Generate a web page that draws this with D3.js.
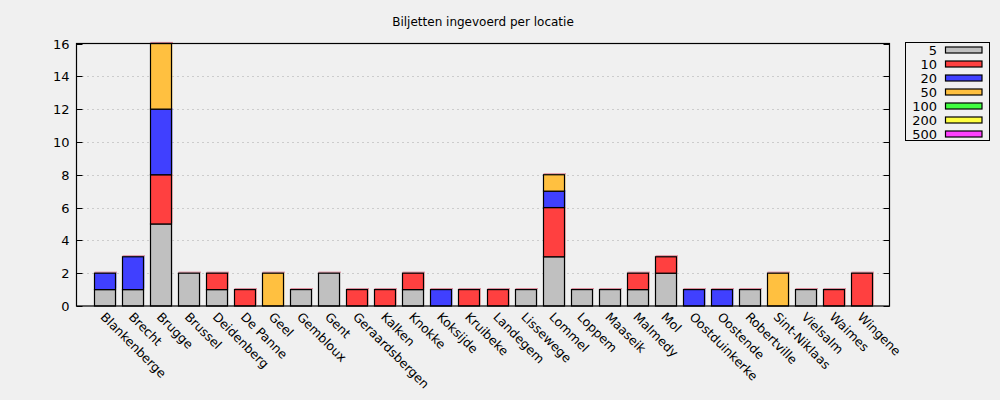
<!DOCTYPE html>
<html><head><meta charset="utf-8">
<script src="https://cdn.jsdelivr.net/npm/d3@7"></script>
<style>
body{margin:0;background:#f0f0f0;}
svg{display:block;font-family:"DejaVu Sans",sans-serif;}
</style></head>
<body><svg id="c" width="1000" height="400"></svg>
<script>
const title = "Biljetten ingevoerd per locatie";
const locations = ["Blankenberge","Brecht","Brugge","Brussel","Deidenberg","De Panne","Geel","Gembloux","Gent","Geraardsbergen","Kalken","Knokke","Koksijde","Kruibeke","Landegem","Lissewege","Lommel","Loppem","Maaseik","Malmedy","Mol","Oostduinkerke","Oostende","Robertville","Sint-Niklaas","Vielsalm","Waimes","Wingene"];
const seriesNames = ["5","10","20","50","100","200","500"];
const seriesColors = ["#c0c0c0","#ff4040","#4040ff","#ffc040","#40ff40","#ffff40","#ff40ff"];
const v5   = [1,1,5,2,1,0,0,1,2,0,0,1,0,0,0,1,3,1,1,1,2,0,0,1,0,1,0,0];
const v10  = [0,0,3,0,1,1,0,0,0,1,1,1,0,1,1,0,3,0,0,1,1,0,0,0,0,0,1,2];
const v20  = [1,2,4,0,0,0,0,0,0,0,0,0,1,0,0,0,1,0,0,0,0,1,1,0,0,0,0,0];
const v50  = [0,0,4,0,0,0,2,0,0,0,0,0,0,0,0,0,1,0,0,0,0,0,0,0,2,0,0,0];
const v100 = new Array(28).fill(0);
const v200 = new Array(28).fill(0);
const v500 = new Array(28).fill(0);
const yTicks = [0,2,4,6,8,10,12,14,16];

const series = [v5,v10,v20,v50,v100,v200,v500];
const svg = d3.select("#c");
const L=76.5, R=889.5, T=43.5, B=306;
const x = d3.scalePoint().domain(locations).range([L+28, R-28]);
const y = d3.scaleLinear().domain([0,16]).range([B, T]);
const bw = 21;

svg.append("text").attr("x", (L+R)/2).attr("y", 26).attr("text-anchor","middle")
  .attr("font-size", 12).attr("fill","#000").text(title);

// grid
svg.append("g").selectAll("line").data(yTicks.filter(t=>t>0&&t<16)).join("line")
  .attr("x1", L+6).attr("x2", R-6).attr("y1", d=>Math.round(y(d))+0.5).attr("y2", d=>Math.round(y(d))+0.5)
  .attr("stroke","#a8a8a8").attr("stroke-width",1).attr("stroke-dasharray","1,4");

// stacks
const data = locations.map((loc,i)=>{
  let acc=0; const segs=[];
  series.forEach((s,k)=>{ if(s[i]>0){ segs.push({k, y0:acc, y1:acc+s[i]}); acc+=s[i]; } });
  return {loc, segs, total:acc};
});
const g = svg.append("g");
data.forEach(d=>{
  const cx = x(d.loc);
  const x0 = Math.round(cx - bw/2)+0.5;
  d.segs.forEach(s=>{
    g.append("rect").attr("x", x0+1.5).attr("y", y(s.y1)-1).attr("width", bw).attr("height", y(s.y0)-y(s.y1))
      .attr("fill", seriesColors[s.k]).attr("opacity",0.35);
  });
  if(d.total>0){
    g.append("line").attr("x1", x0).attr("x2", x0+bw+1.5).attr("y1", y(d.total)-1).attr("y2", y(d.total)-1)
      .attr("stroke","#e090a0").attr("stroke-width",1.2);
  }
  d.segs.forEach(s=>{
    g.append("rect").attr("x", x0).attr("y", y(s.y1)).attr("width", bw).attr("height", y(s.y0)-y(s.y1))
      .attr("fill", seriesColors[s.k]).attr("stroke","#000").attr("stroke-width",1.2);
  });
});

// frame
svg.append("rect").attr("x",L).attr("y",T).attr("width",R-L).attr("height",B-T)
  .attr("fill","none").attr("stroke","#000").attr("stroke-width",1.2);

// y ticks left & right
const tk = svg.append("g");
yTicks.forEach(t=>{
  const yy = Math.round(y(t))+0.5;
  tk.append("line").attr("x1",L).attr("x2",L+6).attr("y1",yy).attr("y2",yy).attr("stroke","#000");
  tk.append("line").attr("x1",R-6).attr("x2",R).attr("y1",yy).attr("y2",yy).attr("stroke","#000");
  tk.append("text").attr("x", L-7).attr("y", yy).attr("dy","0.35em").attr("text-anchor","end")
    .attr("font-size",13).attr("fill","#000").text(t);
});

// x labels
svg.append("g").selectAll("text").data(locations).join("text")
  .attr("transform", d=>`translate(${x(d)+2},${B+5}) rotate(45)`)
  .attr("dy","0.75em").attr("font-size",12.5).attr("fill","#000").text(d=>d);

// legend
const lg = svg.append("g");
lg.append("rect").attr("x",905.5).attr("y",42.5).attr("width",84).attr("height",98)
  .attr("fill","none").attr("stroke","#000").attr("stroke-width",1);
seriesNames.forEach((n,i)=>{
  const yy = 50 + i*14;
  lg.append("text").attr("x",937).attr("y",yy).attr("dy","0.36em").attr("text-anchor","end")
    .attr("font-size",13).attr("fill","#000").text(n);
  lg.append("rect").attr("x",945.5).attr("y",yy-3).attr("width",36.5).attr("height",6)
    .attr("fill",seriesColors[i]).attr("stroke","#000").attr("stroke-width",1.2);
});
</script></body></html>
